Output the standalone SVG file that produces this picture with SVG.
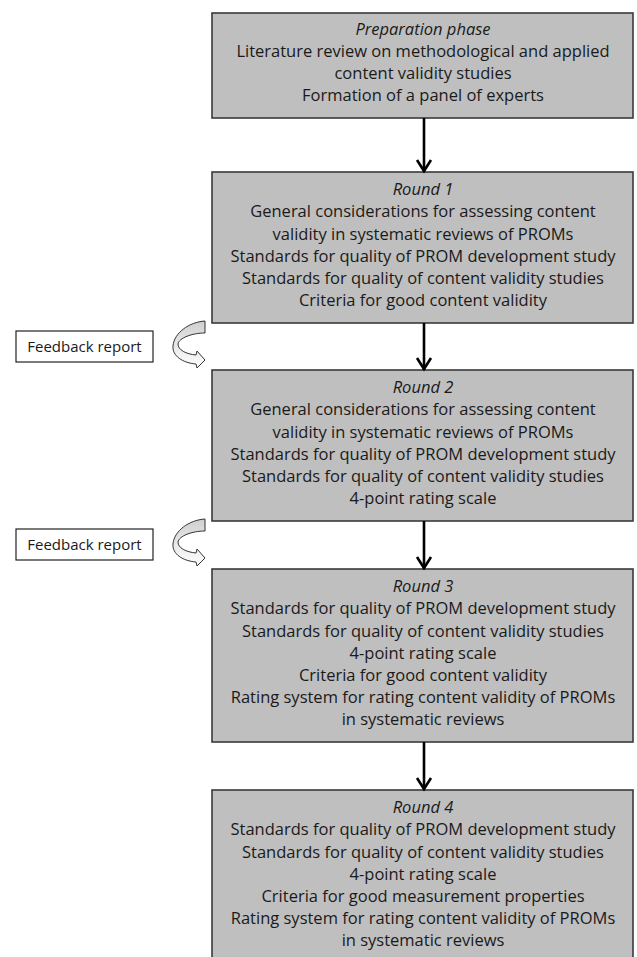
<svg xmlns="http://www.w3.org/2000/svg" width="637" height="957" viewBox="0 0 637 957">
<defs>
<style>
.box{fill:#bfbfbf;stroke:#3a3a3a;stroke-width:1.6}
.fb{fill:#ffffff;stroke:#222;stroke-width:1.2}
text{font-family:"Open Sans","Liberation Sans",Arial,sans-serif;fill:#1a1a1a;text-anchor:middle}
.t{font-size:16.5px}
.i{font-style:italic}
.f{font-size:15px}
.conn{stroke:#000;stroke-width:2.6;fill:none}
.curv{fill:url(#cg);stroke:#333;stroke-width:1}
</style>
<marker id="ah" markerUnits="userSpaceOnUse" markerWidth="20" markerHeight="20" viewBox="-16 -10 20 20" refX="0" refY="0" orient="auto">
<path d="M-12,-7 L-1,0 L-12,7" fill="none" stroke="#000" stroke-width="2.6"/>
</marker>
<linearGradient id="cg" x1="0" y1="0" x2="0" y2="1">
<stop offset="0" stop-color="#cfcfcf"/>
<stop offset="1" stop-color="#ffffff"/>
</linearGradient>
</defs>

<g id="prep">
<rect class="box" x="212" y="13" width="421" height="105"/>
<text class="t i" x="423" y="35">Preparation phase</text>
<text class="t" x="423" y="57">Literature review on methodological and applied</text>
<text class="t" x="423" y="79">content validity studies</text>
<text class="t" x="423" y="101">Formation of a panel of experts</text>
</g>

<g id="round1">
<rect class="box" x="212" y="172" width="421" height="151"/>
<text class="t i" x="423" y="195">Round 1</text>
<text class="t" x="423" y="217">General considerations for assessing content</text>
<text class="t" x="423" y="239.5">validity in systematic reviews of PROMs</text>
<text class="t" x="423" y="261.5">Standards for quality of PROM development study</text>
<text class="t" x="423" y="284">Standards for quality of content validity studies</text>
<text class="t" x="423" y="306">Criteria for good content validity</text>
</g>

<g id="round2">
<rect class="box" x="212" y="370" width="421" height="151"/>
<text class="t i" x="423" y="393">Round 2</text>
<text class="t" x="423" y="415">General considerations for assessing content</text>
<text class="t" x="423" y="437.5">validity in systematic reviews of PROMs</text>
<text class="t" x="423" y="459.5">Standards for quality of PROM development study</text>
<text class="t" x="423" y="482">Standards for quality of content validity studies</text>
<text class="t" x="423" y="504">4-point rating scale</text>
</g>

<g id="round3">
<rect class="box" x="212" y="569" width="421" height="173"/>
<text class="t i" x="423" y="592">Round 3</text>
<text class="t" x="423" y="614">Standards for quality of PROM development study</text>
<text class="t" x="423" y="636.5">Standards for quality of content validity studies</text>
<text class="t" x="423" y="658.5">4-point rating scale</text>
<text class="t" x="423" y="681">Criteria for good content validity</text>
<text class="t" x="423" y="703">Rating system for rating content validity of PROMs</text>
<text class="t" x="423" y="725">in systematic reviews</text>
</g>

<g id="round4">
<rect class="box" x="212" y="790" width="421" height="180"/>
<text class="t i" x="423" y="813">Round 4</text>
<text class="t" x="423" y="835">Standards for quality of PROM development study</text>
<text class="t" x="423" y="857.5">Standards for quality of content validity studies</text>
<text class="t" x="423" y="879.5">4-point rating scale</text>
<text class="t" x="423" y="902">Criteria for good measurement properties</text>
<text class="t" x="423" y="924">Rating system for rating content validity of PROMs</text>
<text class="t" x="423" y="946">in systematic reviews</text>
</g>

<g id="feedback1">
<rect class="fb" x="16" y="331" width="137" height="31"/>
<text class="f" x="84.5" y="352">Feedback report</text>
<path class="curv" d="M205,321 L205,333 C192,333 179,338 178,344 C178,350 186,354 196,355 L197,351 L205,360 L197,368 L196,364 C183,363 172,356 173,346 C174,333 189,322 205,321 Z"/>
</g>

<g id="feedback2">
<rect class="fb" x="16" y="529" width="137" height="31"/>
<text class="f" x="84.5" y="550">Feedback report</text>
<path class="curv" transform="translate(0,198)" d="M205,321 L205,333 C192,333 179,338 178,344 C178,350 186,354 196,355 L197,351 L205,360 L197,368 L196,364 C183,363 172,356 173,346 C174,333 189,322 205,321 Z"/>
</g>

<g id="connectors">
<line class="conn" x1="424" y1="118" x2="424" y2="172" marker-end="url(#ah)"/>
<line class="conn" x1="424" y1="323" x2="424" y2="370" marker-end="url(#ah)"/>
<line class="conn" x1="424" y1="521" x2="424" y2="569" marker-end="url(#ah)"/>
<line class="conn" x1="424" y1="742" x2="424" y2="790" marker-end="url(#ah)"/>
</g>
</svg>
